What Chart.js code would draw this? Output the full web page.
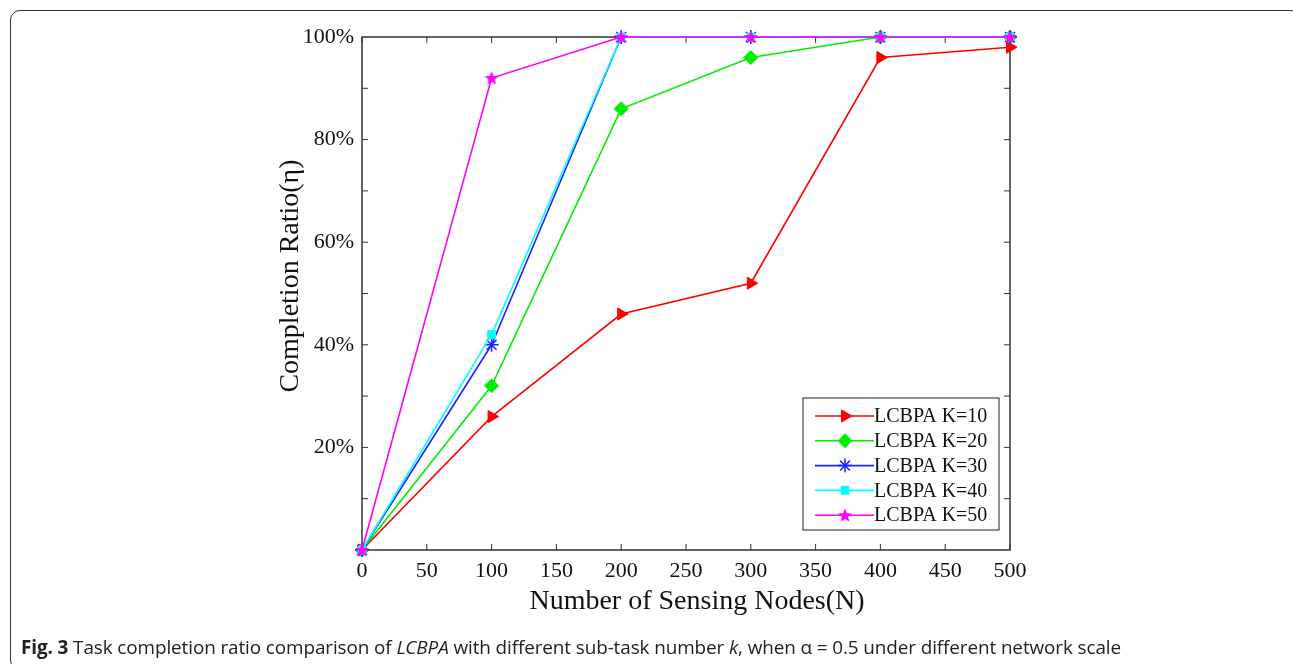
<!DOCTYPE html>
<html>
<head>
<meta charset="utf-8">
<script src="https://cdn.jsdelivr.net/npm/chart.js@4"></script>
<style>
  html, body { margin: 0; padding: 0; background: #fff; }
  #wrap { position: relative; width: 1293px; height: 664px; overflow: hidden; }
  #frame { position: absolute; left: 10px; top: 10px; width: 1290px; height: 660px;
           border: 1.5px solid #333; border-radius: 10px; box-sizing: border-box; }
  #chart-box { position: absolute; left: 0; top: 0; width: 1293px; height: 664px; }
  #caption { position: absolute; left: 21px; top: 634px; font-family: "Open Sans", sans-serif;
             font-size: 18.9px; color: #222; white-space: nowrap; letter-spacing: -0.1px; }
</style>
</head>
<body>
<div id="wrap">
  <div id="frame"></div>
  <div id="chart-box"><canvas id="grafico"></canvas></div>
  <div id="caption"><b>Fig. 3</b> Task completion ratio comparison of <i>LCBPA</i> with different sub-task number <i>k</i>, when α = 0.5 under different network scale</div>
</div>
<script>
// dados
const nos = [0, 100, 200, 300, 400, 500];
const k10 = [0, 26, 46, 52, 96, 98];
const k20 = [0, 32, 86, 96, 100, 100];
const k30 = [0, 40, 100, 100, 100, 100];
const k40 = [0, 42, 100, 100, 100, 100];
const k50 = [0, 92, 100, 100, 100, 100];
const nomes = ['LCBPA K=10', 'LCBPA K=20', 'LCBPA K=30', 'LCBPA K=40', 'LCBPA K=50'];
const cores = ['#ff0000', '#00ee00', '#2222ff', '#00ffff', '#ff00ff'];
const xTicks = [0, 50, 100, 150, 200, 250, 300, 350, 400, 450, 500];
const yLabels = [20, 40, 60, 80, 100];

// estrela de 5 pontas (não existe no Chart.js)
function criarEstrela(cor) {
    const c = document.createElement('canvas');
    c.width = 16; c.height = 16;
    const g = c.getContext('2d');
    g.fillStyle = cor;
    g.beginPath();
    for (let i = 0; i < 10; i++) {
        const r = i % 2 === 0 ? 7.5 : 3.2;
        const a = -Math.PI / 2 + i * Math.PI / 5;
        const px = 8 + r * Math.cos(a), py = 8.5 + r * Math.sin(a);
        if (i === 0) g.moveTo(px, py); else g.lineTo(px, py);
    }
    g.closePath();
    g.fill();
    return c;
}

const estilos = [
    { pointStyle: 'triangle', rotation: 90, radius: 7 },
    { pointStyle: 'rectRot', rotation: 0, radius: 7 },
    { pointStyle: 'star', rotation: 0, radius: 7 },
    { pointStyle: 'rect', rotation: 0, radius: 5.5 },
    { pointStyle: criarEstrela(cores[4]), rotation: 0, radius: 8 }
];
const series = [k10, k20, k30, k40, k50];

const datasets = series.map((s, i) => ({
    label: nomes[i],
    data: nos.map((n, j) => ({ x: n, y: s[j] })),
    borderColor: cores[i],
    backgroundColor: cores[i],
    borderWidth: 1.6,
    pointStyle: estilos[i].pointStyle,
    pointRotation: estilos[i].rotation,
    pointRadius: estilos[i].radius,
    pointBorderWidth: i === 2 ? 1.5 : 1,
    order: 5 - i,
    clip: false,
    tension: 0
}));

const fonteSerif = 'Liberation Serif, Times New Roman, serif';

// moldura, ticks internos, títulos e legenda
const molduraPlugin = {
    id: 'moldura',
    beforeDatasetsDraw(chart) {
        const ctx = chart.ctx;
        const a = chart.chartArea;
        const sx = chart.scales.x, sy = chart.scales.y;
        ctx.save();
        ctx.strokeStyle = '#333';
        ctx.lineWidth = 1.5;
        ctx.strokeRect(a.left, a.top, a.right - a.left, a.bottom - a.top);
        ctx.lineWidth = 1;
        ctx.beginPath();
        xTicks.forEach(v => {
            const px = sx.getPixelForValue(v);
            ctx.moveTo(px, a.bottom); ctx.lineTo(px, a.bottom - 6);
            ctx.moveTo(px, a.top); ctx.lineTo(px, a.top + 6);
        });
        for (let v = 10; v < 100; v += 10) {
            const py = sy.getPixelForValue(v);
            ctx.moveTo(a.left, py); ctx.lineTo(a.left + 6, py);
            ctx.moveTo(a.right, py); ctx.lineTo(a.right - 6, py);
        }
        ctx.stroke();

        // títulos dos eixos
        ctx.fillStyle = '#111';
        ctx.font = '28px ' + fonteSerif;
        ctx.textAlign = 'center';
        ctx.textBaseline = 'middle';
        ctx.fillText('Number of Sensing Nodes(N)', 697, 602);
        ctx.translate(291, 276);
        ctx.rotate(-Math.PI / 2);
        ctx.fillText('Completion Ratio(η)', 0, 0);
        ctx.restore();
    },
    afterDraw(chart) {
        const ctx = chart.ctx;
        // legenda
        ctx.save();
        ctx.fillStyle = '#fff';
        ctx.fillRect(803, 398, 196, 132);
        ctx.strokeStyle = '#444';
        ctx.lineWidth = 1.2;
        ctx.strokeRect(803, 398, 196, 132);
        ctx.font = '20px ' + fonteSerif;
        ctx.textAlign = 'left';
        ctx.textBaseline = 'middle';
        chart.data.datasets.forEach((ds, i) => {
            const y = 416 + i * 24.8;
            ctx.strokeStyle = ds.borderColor;
            ctx.lineWidth = 1.6;
            ctx.beginPath();
            ctx.moveTo(815, y); ctx.lineTo(874, y);
            ctx.stroke();
            ctx.fillStyle = ds.backgroundColor;
            ctx.lineWidth = ds.pointBorderWidth;
            Chart.helpers.drawPoint(ctx, {
                pointStyle: ds.pointStyle,
                rotation: ds.pointRotation,
                radius: ds.pointRadius,
                borderWidth: ds.pointBorderWidth
            }, 845, y);
            ctx.fillStyle = '#111';
            ctx.fillText(ds.label, 874, y + 1);
        });
        ctx.restore();
    }
};

new Chart(document.getElementById('grafico'), {
    type: 'line',
    data: { datasets: datasets },
    options: {
        responsive: true,
        maintainAspectRatio: false,
        animation: false,
        layout: { padding: { top: 37, right: 283, left: 0, bottom: 0 } },
        plugins: { legend: { display: false }, tooltip: { enabled: false } },
        scales: {
            x: {
                type: 'linear',
                min: 0, max: 500,
                afterBuildTicks(scale) { scale.ticks = xTicks.map(v => ({ value: v })); },
                afterFit(scale) { scale.height = 114; },
                grid: { display: false, drawTicks: false },
                border: { display: false },
                ticks: { color: '#111', padding: 8, font: { family: fonteSerif, size: 22 } }
            },
            y: {
                min: 0, max: 100,
                afterBuildTicks(scale) { scale.ticks = yLabels.map(v => ({ value: v })); },
                afterFit(scale) { scale.width = 362; },
                grid: { display: false, drawTicks: false },
                border: { display: false },
                ticks: {
                    color: '#111', padding: 8,
                    font: { family: fonteSerif, size: 22 },
                    callback: v => v + '%'
                }
            }
        }
    },
    plugins: [molduraPlugin]
});
</script>
</body>
</html>
